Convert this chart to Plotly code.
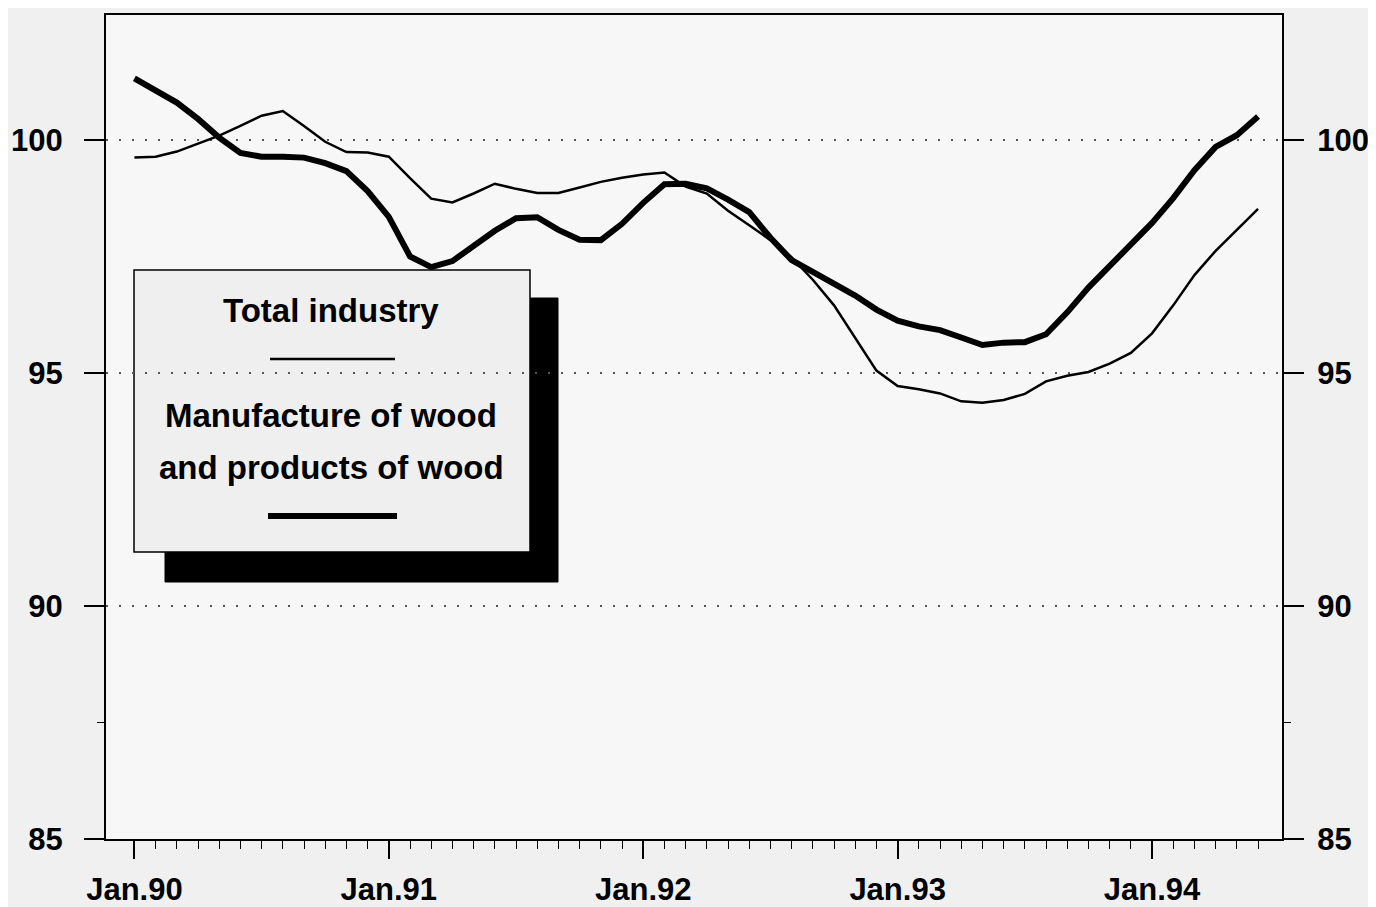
import plotly.graph_objects as go

# ---- data (months since Jan.90) ----
months = list(range(0, 54))
wood = [101.32, 101.07, 100.8, 100.45, 100.05, 99.72, 99.64, 99.64, 99.62, 99.5,
        99.33, 98.9, 98.35, 97.5, 97.27, 97.4, 97.72, 98.05, 98.32, 98.34,
        98.07, 97.86, 97.85, 98.2, 98.65, 99.05, 99.06, 98.96, 98.72, 98.45,
        97.9, 97.42, 97.17, 96.93, 96.66, 96.36, 96.12, 96.0, 95.92, 95.76,
        95.6, 95.65, 95.66, 95.83, 96.3, 96.83, 97.3, 97.75, 98.22, 98.75,
        99.35, 99.85, 100.1, 100.5]
total = [99.62, 99.64, 99.75, 99.92, 100.09, 100.3, 100.52, 100.62, 100.3, 99.96,
         99.74, 99.73, 99.64, 99.18, 98.74, 98.66, 98.85, 99.06, 98.95, 98.86,
         98.86, 98.98, 99.1, 99.19, 99.26, 99.3, 99.0, 98.85, 98.48, 98.17,
         97.85, 97.48, 97.0, 96.45, 95.75, 95.05, 94.72, 94.65, 94.56, 94.39,
         94.36, 94.42, 94.55, 94.82, 94.94, 95.02, 95.2, 95.43, 95.85, 96.45,
         97.1, 97.62, 98.07, 98.52]
xtick_vals = [0, 12, 24, 36, 48]
xtick_text = ["Jan.90", "Jan.91", "Jan.92", "Jan.93", "Jan.94"]
ytick_vals = [85, 90, 95, 100]
ytick_text = ["85", "90", "95", "100"]
label_total = "Total industry"
label_wood = ["Manufacture of wood", "and products of wood"]

FONT = "Liberation Sans, Arial, Helvetica, sans-serif"
minor_x = [m for m in range(1, 54) if m % 12 != 0]

fig = go.Figure()
fig.add_trace(go.Scatter(x=months, y=wood, mode="lines", name=" ".join(label_wood),
                         line=dict(color="black", width=6), showlegend=False,
                         xaxis="x", yaxis="y"))
fig.add_trace(go.Scatter(x=months, y=total, mode="lines", name=label_total,
                         line=dict(color="black", width=2.5), showlegend=False,
                         xaxis="x", yaxis="y2"))

yrange = [85, 102.68]
common_y = dict(
    range=yrange, tickmode="array", tickvals=ytick_vals, ticktext=ytick_text,
    ticks="outside", ticklen=20, tickwidth=1.5, tickcolor="black",
    showline=True, linecolor="black", linewidth=2, zeroline=False,
    automargin=False,
    tickfont=dict(family=FONT, size=31, color="black", weight="bold"),
    minor=dict(tickmode="array", tickvals=[87.5], ticks="outside", ticklen=7,
               tickwidth=1.2, tickcolor="black", showgrid=False),
)

fig.update_layout(
    width=1368, height=899, autosize=False,
    margin=dict(l=98, r=94, t=7, b=68),
    paper_bgcolor="#f0f0f0", plot_bgcolor="#f7f7f7",
    xaxis=dict(
        range=[-1.34, 54.13], tickmode="array", tickvals=xtick_vals, ticktext=xtick_text,
        ticks="outside", ticklen=18, tickwidth=1.5, tickcolor="black",
        showline=True, mirror=True, linecolor="black", linewidth=2,
        showgrid=False, zeroline=False, ticklabelstandoff=4, automargin=False,
        tickfont=dict(family=FONT, size=31, color="black", weight="bold"),
        minor=dict(tickmode="array", tickvals=minor_x, ticks="outside", ticklen=8,
                   tickwidth=1.2, tickcolor="black", showgrid=False),
    ),
    yaxis=dict(showgrid=True, gridcolor="#555555", gridwidth=2, griddash="2px,11px",
               ticklabelstandoff=15, **common_y),
    yaxis2=dict(overlaying="y", side="right", matches="y", showgrid=False,
                ticklabelstandoff=7, **common_y),
)

def px2p(px, py):
    return (px - 106) / 1176.0, (839 - py) / 824.0

# legend box with shadow
sx0, sy0 = px2p(165, 298)
sx1, sy1 = px2p(558, 582)
bx0, by0 = px2p(134, 270)
bx1, by1 = px2p(530, 552)
fig.add_shape(type="rect", xref="paper", yref="paper", x0=sx0, y0=sy1, x1=sx1, y1=sy0,
              fillcolor="black", line=dict(color="black", width=1), layer="below")
fig.add_shape(type="rect", xref="paper", yref="paper", x0=bx0, y0=by1, x1=bx1, y1=by0,
              fillcolor="#efefef", line=dict(color="black", width=1.5), layer="below")

lx0, ly = px2p(270, 359)
lx1, _ = px2p(395, 359)
fig.add_shape(type="line", xref="paper", yref="paper", x0=lx0, x1=lx1, y0=ly, y1=ly,
              line=dict(color="black", width=2.5))
lx0, ly = px2p(268, 516)
lx1, _ = px2p(397, 516)
fig.add_shape(type="line", xref="paper", yref="paper", x0=lx0, x1=lx1, y0=ly, y1=ly,
              line=dict(color="black", width=6))

for txt, py in [(label_total, 311), (label_wood[0], 415), (label_wood[1], 467)]:
    ax, ay = px2p(331, py)
    fig.add_annotation(x=ax, y=ay, xref="paper", yref="paper", text=txt, showarrow=False,
                       xanchor="center", yanchor="middle",
                       font=dict(family=FONT, size=33, color="black", weight="bold"))

fig.write_html("out.html")
